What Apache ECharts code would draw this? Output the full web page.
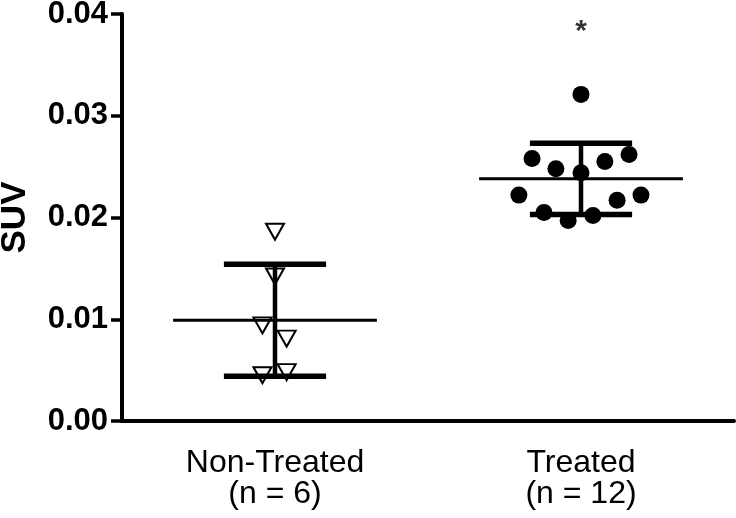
<!DOCTYPE html>
<html>
<head>
<meta charset="utf-8">
<script src="https://cdn.jsdelivr.net/npm/echarts@6/dist/echarts.min.js"></script>
<style>
	html, body { margin: 0; padding: 0; background: #fff; }
	#chart { width: 736px; height: 518px; }
</style>
</head>
<body>
<div id="chart"></div>
<script>
// groups on the x axis
var categories = ['Non-Treated\n(n = 6)', 'Treated\n(n = 12)'];

// SUV of each animal
var nonTreatedSUV = [0.0186, 0.0142, 0.0094, 0.0081, 0.0045, 0.0048];
var treatedSUV = [0.0321, 0.0258, 0.0248, 0.0244, 0.0255, 0.0262, 0.0222, 0.0222, 0.0217, 0.0205, 0.0197, 0.0202];

// horizontal spread of the dots inside a group (fraction of a category band)
var nonTreatedSpread = [0, 0, -0.041, 0.038, -0.041, 0.038];
var treatedSpread = [0, -0.160, -0.082, 0, 0.078, 0.157, -0.203, 0.196, 0.118, -0.121, -0.042, 0.039];

// mean and SD bars
var groupMean = [0.0099, 0.0238];
var groupSD = [0.0055, 0.0035];

// significance mark
var starGroup = 1;
var starValue = 0.0383;

var font = 'Arial, "Liberation Sans", Helvetica, sans-serif';

function points(group, values, spread){
	var arr = [];
	values.map(function(v, i){
		arr.push([group + spread[i], v]);
	});
	return arr;
}

var myChart = echarts.init(document.getElementById('chart'));

var option = {
	animation : false,
	grid : {
		left : 122,
		right : 2,
		top : 14,
		bottom : 97,
		containLabel : false,
		outerBoundsMode : 'none'
	},
	xAxis : [
		{
			type : 'category',
			data : categories,
			boundaryGap : true,
			axisLine : {
				lineStyle : { color : '#000', width : 4 }
			},
			axisTick : {
				alignWithLabel : true,
				length : 14,
				lineStyle : { color : '#000', width : 4 }
			},
			axisLabel : {
				color : '#000',
				fontFamily : font,
				fontSize : 32,
				lineHeight : 31,
				margin : 27
			},
			splitLine : { show : false }
		},
		{
			type : 'value',
			min : -0.5,
			max : 1.5,
			show : false,
			splitLine : { show : false }
		}
	],
	yAxis : {
		type : 'value',
		min : 0,
		max : 0.04,
		interval : 0.01,
		name : 'SUV',
		nameLocation : 'middle',
		nameGap : 89,
		nameTextStyle : {
			color : '#000',
			fontFamily : font,
			fontSize : 35,
			fontWeight : 'bold'
		},
		axisLine : {
			show : true,
			onZero : false,
			lineStyle : { color : '#000', width : 4 }
		},
		axisTick : {
			show : true,
			length : 11,
			lineStyle : { color : '#000', width : 3.5 }
		},
		axisLabel : {
			color : '#000',
			fontFamily : font,
			fontSize : 31,
			fontWeight : 'bold',
			margin : 14,
			formatter : function(v){ return v.toFixed(2); }
		},
		splitLine : { show : false }
	},
	series : [
		{
			name : 'Non-Treated',
			type : 'scatter',
			xAxisIndex : 1,
			symbol : 'triangle',
			symbolRotate : 180,
			symbolSize : [18, 16],
			itemStyle : {
				color : '#fff',
				borderColor : '#000',
				borderWidth : 2,
				opacity : 1
			},
			data : points(0, nonTreatedSUV, nonTreatedSpread),
			z : 2
		},
		{
			name : 'Treated',
			type : 'scatter',
			xAxisIndex : 1,
			symbol : 'circle',
			symbolSize : 17,
			itemStyle : { color : '#000', opacity : 1 },
			data : points(1, treatedSUV, treatedSpread),
			z : 2
		},
		{
			name : 'Mean ± SD',
			type : 'custom',
			xAxisIndex : 1,
			z : 3,
			data : groupMean.map(function(m, i){ return [i, m, groupSD[i]]; }),
			renderItem : function(params, api){
				var x = api.value(0), m = api.value(1), sd = api.value(2);
				var ml = api.coord([x - 0.333, m]), mr = api.coord([x + 0.333, m]);
				var tl = api.coord([x - 0.167, m + sd]), tr = api.coord([x + 0.167, m + sd]);
				var bl = api.coord([x - 0.167, m - sd]), br = api.coord([x + 0.167, m - sd]);
				var top = api.coord([x, m + sd]), bot = api.coord([x, m - sd]);
				var st = function(w){ return { stroke : '#000', lineWidth : w }; };
				return {
					type : 'group',
					children : [
						{ type : 'line', shape : { x1 : top[0], y1 : top[1], x2 : bot[0], y2 : bot[1] }, style : st(4.5) },
						{ type : 'line', shape : { x1 : ml[0], y1 : ml[1], x2 : mr[0], y2 : mr[1] }, style : st(3) },
						{ type : 'line', shape : { x1 : tl[0], y1 : tl[1], x2 : tr[0], y2 : tr[1] }, style : st(5.5) },
						{ type : 'line', shape : { x1 : bl[0], y1 : bl[1], x2 : br[0], y2 : br[1] }, style : st(5.5) }
					]
				};
			}
		},
		{
			name : 'significance',
			type : 'scatter',
			xAxisIndex : 1,
			symbolSize : 0,
			silent : true,
			label : {
				show : true,
				position : 'inside',
				formatter : '*',
				color : '#000',
				fontFamily : font,
				fontSize : 30,
				fontWeight : 'bold'
			},
			data : [[starGroup, starValue]]
		}
	]
};

myChart.setOption(option);
</script>
</body>
</html>
